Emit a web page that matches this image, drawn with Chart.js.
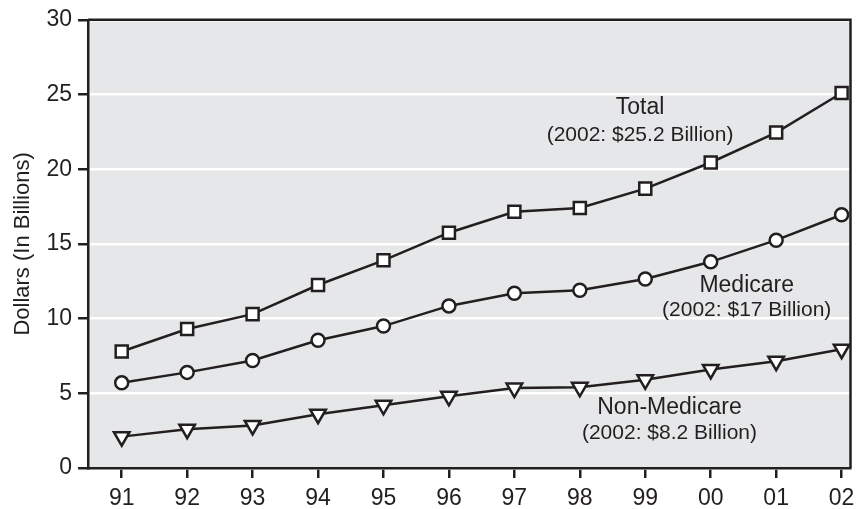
<!DOCTYPE html>
<html lang="en">
<head>
    <meta charset="UTF-8">
    <title>Dollars (In Billions)</title>
    <script src="https://cdn.jsdelivr.net/npm/chart.js"></script>
    <style>
        body { margin: 0; background: #fff; }
        #chart { display: block; }
    </style>
</head>
<body>
    <canvas id="chart" width="862" height="509"></canvas>
    <script>
        // values
        const years = ['91', '92', '93', '94', '95', '96', '97', '98', '99', '00', '01', '02'];
        const yearPos = [91, 92, 93, 94, 95, 96, 97, 98, 99, 100, 101, 102];
        const total = [7.8, 9.3, 10.3, 12.25, 13.9, 15.75, 17.15, 17.4, 18.7, 20.45, 22.45, 25.1];
        const medicare = [5.7, 6.4, 7.2, 8.55, 9.5, 10.85, 11.7, 11.9, 12.65, 13.8, 15.25, 16.95];
        const nonMedicare = [2.1, 2.6, 2.85, 3.6, 4.2, 4.8, 5.35, 5.4, 5.9, 6.6, 7.15, 7.95];
        const yTicks = [0, 5, 10, 15, 20, 25, 30];

        // series labels: [text, x, y, size]
        const notes = [
            ['Total', 98.92, 24.1, 23],
            ['(2002: $25.2 Billion)', 98.92, 22.3, 21],
            ['Medicare', 100.55, 12.2, 23],
            ['(2002: $17 Billion)', 100.55, 10.55, 21],
            ['Non-Medicare', 99.37, 4.03, 23],
            ['(2002: $8.2 Billion)', 99.37, 2.36, 21]
        ];

        const ink = '#231f20';
        const font = "'Liberation Sans', Arial, sans-serif";

        function pts(vals) {
            return vals.map((v, i) => ({ x: yearPos[i], y: v }));
        }

        function series(vals, style, r, rot) {
            return {
                data: pts(vals),
                borderColor: ink,
                borderWidth: 2.5,
                pointStyle: style,
                pointRadius: r,
                pointRotation: rot,
                pointBackgroundColor: '#fff',
                pointBorderColor: ink,
                pointBorderWidth: 2.5,
                tension: 0
            };
        }

        const framePlugin = {
            id: 'frame',
            beforeDraw(chart) {
                const a = chart.chartArea, c = chart.ctx;
                c.save();
                c.fillStyle = '#e6e7e8';
                c.fillRect(a.left, a.top, a.right - a.left, a.bottom - a.top);
                c.restore();
            },
            beforeDatasetsDraw(chart) {
                const a = chart.chartArea, c = chart.ctx;
                c.save();
                c.strokeStyle = ink;
                c.lineWidth = 2.5;
                c.beginPath();
                c.moveTo(a.left, a.top);
                c.lineTo(a.right, a.top);
                c.lineTo(a.right, a.bottom);
                c.stroke();
                c.restore();
            },
            afterDraw(chart) {
                const c = chart.ctx, xs = chart.scales.x, ys = chart.scales.y;
                c.save();
                c.fillStyle = ink;
                c.textAlign = 'center';
                c.textBaseline = 'middle';
                notes.forEach(n => {
                    c.font = n[3] + 'px ' + font;
                    c.fillText(n[0], xs.getPixelForValue(n[1]), ys.getPixelForValue(n[2]));
                });
                c.restore();
            }
        };

        new Chart(document.getElementById('chart'), {
            type: 'line',
            data: {
                datasets: [
                    series(total, 'rect', 8.5, 0),
                    series(medicare, 'circle', 6.5, 0),
                    series(nonMedicare, 'triangle', 9, 180)
                ]
            },
            options: {
                responsive: false,
                animation: false,
                layout: { padding: { top: 17, right: 5, left: 0, bottom: 0 } },
                plugins: { legend: { display: false }, tooltip: { enabled: false } },
                scales: {
                    x: {
                        type: 'linear',
                        min: 90.485,
                        max: 102.136,
                        afterBuildTicks: s => { s.ticks = yearPos.map(v => ({ value: v })); },
                        afterFit: s => { s.height = 41; },
                        ticks: {
                            callback: (v, i) => years[i],
                            color: ink,
                            font: { family: font, size: 23 },
                            padding: 7,
                            maxRotation: 0,
                            autoSkip: false
                        },
                        grid: { drawOnChartArea: false, tickColor: ink, tickLength: 10, lineWidth: 2.5 },
                        border: { color: ink, width: 2.5 }
                    },
                    y: {
                        min: 0,
                        max: 30,
                        afterBuildTicks: s => { s.ticks = yTicks.map(v => ({ value: v })); },
                        afterFit: s => { s.width = 88; },
                        ticks: {
                            color: ink,
                            font: { family: font, size: 23 },
                            padding: 6
                        },
                        grid: { color: '#fff', lineWidth: 2.5, tickColor: ink, tickLength: 10 },
                        border: { color: ink, width: 2.5 },
                        title: {
                            display: true,
                            text: 'Dollars (In Billions)',
                            color: ink,
                            font: { family: font, size: 22 },
                            padding: { top: 10, bottom: 0 }
                        }
                    }
                }
            },
            plugins: [framePlugin]
        });
    </script>
</body>
</html>
